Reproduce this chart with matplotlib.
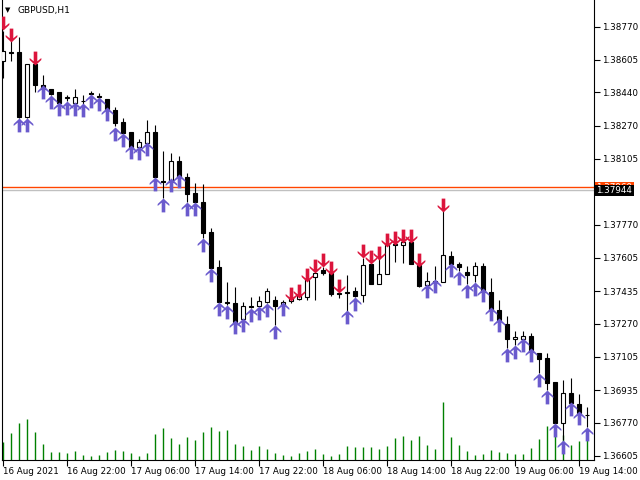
import numpy as np
import matplotlib
matplotlib.use("Agg")
import matplotlib.pyplot as plt
from matplotlib.path import Path

# GBPUSD H1, bars from 16 Aug 2021 14:00
opens = [1.38598, 1.38643, 1.38643, 1.38315, 1.38583, 1.38477, 1.38457, 1.38441, 1.38411, 1.38386,
         1.38396, 1.38436, 1.38421, 1.38406, 1.38351, 1.38290, 1.38239, 1.38164, 1.38184, 1.38239,
         1.37992, 1.37987, 1.38093, 1.38012, 1.37931, 1.37886, 1.37734, 1.37558, 1.37381, 1.37376,
         1.37295, 1.37361, 1.37361, 1.37381, 1.37391, 1.37366, 1.37386, 1.37396, 1.37406, 1.37507,
         1.37543, 1.37527, 1.37426, 1.37431, 1.37436, 1.37416, 1.37573, 1.37472, 1.37522, 1.37674,
         1.37669, 1.37684, 1.37568, 1.37467, 1.37487, 1.37482, 1.37613, 1.37573, 1.37533, 1.37517,
         1.37563, 1.37431, 1.37340, 1.37270, 1.37194, 1.37194, 1.37209, 1.37123, 1.37098, 1.36977,
         1.36770, 1.36921, 1.36866, 1.36810]
highs = [1.38749, 1.38704, 1.38719, 1.38583, 1.38583, 1.38527, 1.38457, 1.38441, 1.38426, 1.38457,
         1.38426, 1.38446, 1.38436, 1.38406, 1.38366, 1.38310, 1.38239, 1.38204, 1.38300, 1.38275,
         1.38143, 1.38133, 1.38118, 1.38032, 1.37982, 1.37977, 1.37755, 1.37593, 1.37482, 1.37457,
         1.37381, 1.37406, 1.37411, 1.37452, 1.37411, 1.37391, 1.37406, 1.37416, 1.37497, 1.37527,
         1.37558, 1.37527, 1.37426, 1.37517, 1.37457, 1.37603, 1.37573, 1.37603, 1.37669, 1.37674,
         1.37684, 1.37684, 1.37568, 1.37533, 1.37563, 1.37846, 1.37638, 1.37583, 1.37563, 1.37583,
         1.37578, 1.37502, 1.37391, 1.37310, 1.37234, 1.37234, 1.37224, 1.37123, 1.37123, 1.36977,
         1.36987, 1.36997, 1.36916, 1.36851]
lows = [1.38512, 1.38598, 1.38310, 1.38310, 1.38441, 1.38457, 1.38426, 1.38386, 1.38396, 1.38386,
        1.38381, 1.38426, 1.38411, 1.38356, 1.38270, 1.38234, 1.38164, 1.38164, 1.38184, 1.38012,
        1.37906, 1.37987, 1.38012, 1.37886, 1.37886, 1.37704, 1.37553, 1.37381, 1.37366, 1.37280,
        1.37295, 1.37351, 1.37361, 1.37376, 1.37265, 1.37366, 1.37376, 1.37391, 1.37391, 1.37391,
        1.37517, 1.37411, 1.37401, 1.37335, 1.37406, 1.37381, 1.37472, 1.37472, 1.37522, 1.37583,
        1.37578, 1.37573, 1.37457, 1.37467, 1.37477, 1.37482, 1.37573, 1.37538, 1.37472, 1.37482,
        1.37431, 1.37340, 1.37290, 1.37149, 1.37164, 1.37194, 1.37128, 1.37022, 1.36937, 1.36770,
        1.36684, 1.36871, 1.36820, 1.36750]
closes = [1.38648, 1.38638, 1.38315, 1.38583, 1.38477, 1.38457, 1.38431, 1.38386, 1.38416, 1.38416,
          1.38396, 1.38431, 1.38416, 1.38356, 1.38285, 1.38234, 1.38164, 1.38189, 1.38239, 1.38012,
          1.37987, 1.38093, 1.38012, 1.37926, 1.37886, 1.37729, 1.37553, 1.37381, 1.37376, 1.37280,
          1.37361, 1.37356, 1.37386, 1.37436, 1.37361, 1.37381, 1.37401, 1.37416, 1.37497, 1.37527,
          1.37527, 1.37421, 1.37421, 1.37426, 1.37411, 1.37568, 1.37472, 1.37522, 1.37669, 1.37669,
          1.37684, 1.37573, 1.37462, 1.37487, 1.37482, 1.37618, 1.37573, 1.37558, 1.37517, 1.37563,
          1.37431, 1.37340, 1.37290, 1.37194, 1.37204, 1.37209, 1.37128, 1.37093, 1.36972, 1.36770,
          1.36921, 1.36871, 1.36820, 1.36810]
volumes = [540, 810, 1110, 1230, 840, 480, 240, 240, 210, 270,
           150, 120, 150, 240, 300, 270, 210, 120, 210, 780,
           960, 660, 480, 690, 600, 840, 990, 870, 900, 480,
           420, 300, 420, 330, 210, 150, 120, 210, 270, 330,
           180, 120, 180, 420, 390, 390, 390, 330, 420, 660,
           720, 600, 720, 450, 330, 1740, 690, 450, 270, 150,
           180, 300, 240, 210, 180, 180, 360, 630, 1020, 750,
           750, 450, 570, 600]

# indicator arrows
up_idx = [2, 3] + list(range(5, 36)) + [43, 44, 53, 54] + list(range(56, 74))
up_price = [1.38310, 1.38310, 1.38477, 1.38426, 1.38391, 1.38396, 1.38391, 1.38386, 1.38431, 1.38416,
            1.38366, 1.38265, 1.38234, 1.38174, 1.38169, 1.38189, 1.38012, 1.37906, 1.38007, 1.38027,
            1.37886, 1.37886, 1.37704, 1.37553, 1.37381, 1.37366, 1.37290, 1.37300, 1.37351, 1.37361,
            1.37376, 1.37265, 1.37381,
            1.37340, 1.37406, 1.37472, 1.37497,
            1.37578, 1.37538, 1.37472, 1.37482, 1.37452, 1.37356, 1.37300, 1.37149, 1.37164, 1.37199,
            1.37149, 1.37022, 1.36937, 1.36770, 1.36684, 1.36876, 1.36830, 1.36750]
dn_idx = [0, 1, 4, 36, 37, 38, 39, 40, 41, 42, 45, 46, 47, 48, 49, 50, 51, 52, 55]
dn_price = [1.38755, 1.38694, 1.38578, 1.37386, 1.37401, 1.37482, 1.37527, 1.37558, 1.37517, 1.37426,
            1.37603, 1.37573, 1.37593, 1.37659, 1.37669, 1.37679, 1.37679, 1.37558, 1.37835]

time_labels = ["16 Aug 2021", "16 Aug 22:00", "17 Aug 06:00", "17 Aug 14:00", "17 Aug 22:00",
               "18 Aug 06:00", "18 Aug 14:00", "18 Aug 22:00", "19 Aug 06:00", "19 Aug 14:00"]
price_ticks = [1.38770, 1.38605, 1.38440, 1.38270, 1.38105, 1.37770, 1.37605,
               1.37435, 1.37270, 1.37105, 1.36935, 1.36770, 1.36605]
ask_line = 1.37960
bid_line = 1.37944

x = np.arange(len(opens))
o = np.array(opens)
c = np.array(closes)

fig = plt.figure(figsize=(6.4, 4.8), dpi=100)
ax = fig.add_axes([2 / 640, 20 / 480, 592 / 640, 460 / 480])
axv = ax.twinx()
ax.set_zorder(axv.get_zorder() + 1)
ax.patch.set_visible(False)

# volumes
axv.vlines(x, 0, volumes, color="#008000", lw=1.0)
axv.set_ylim(0, 13800)
axv.set_yticks([])
for s in axv.spines.values():
    s.set_visible(False)

# candles
ax.vlines(x, lows, highs, color="black", lw=0.8, zorder=2)
bull = c >= o
ax.bar(x, np.abs(c - o), bottom=np.minimum(o, c), width=0.5,
       color=np.where(bull, "white", "black"), edgecolor="black", lw=0.8, zorder=3)

# arrows, tip at the origin
up_path = Path([(0, 0), (0.42, -0.40), (0.42, -0.54), (0.13, -0.30), (0.13, -1.0),
                (-0.13, -1.0), (-0.13, -0.30), (-0.42, -0.54), (-0.42, -0.40), (0, 0)],
               closed=True)
dn_path = Path(up_path.vertices * [1, -1], closed=True)
ax.plot(up_idx, up_price, ls="none", marker=up_path, ms=20, color="#6A5ACD", mew=0, zorder=4)
ax.plot(dn_idx, dn_price, ls="none", marker=dn_path, ms=20, color="#DC143C", mew=0, zorder=4)

ax.axhline(ask_line, color="#FF4500", lw=1.0, zorder=1)
ax.axhline(bid_line, color="#C0C0C0", lw=1.0, zorder=1)

ax.set_xlim(-0.125, 73.875)
ax.set_ylim(1.36583, 1.38906)

ax.yaxis.tick_right()
ax.set_yticks(price_ticks)
ax.set_yticklabels(["%.5f" % p for p in price_ticks])
ax.set_xticks(range(0, 74, 8))
ax.set_xticklabels(time_labels, ha="left")
ax.tick_params(axis="both", length=4, width=0.8, labelsize=6.3, pad=2, colors="black")
ax.tick_params(axis="x", pad=1)
ax.spines["top"].set_visible(False)
for s in ["left", "right", "bottom"]:
    ax.spines[s].set_linewidth(0.8)

# price boxes on the scale
ax.text(1.004, ask_line, "1.37960", transform=ax.get_yaxis_transform(), fontsize=6.3,
        color="white", va="center", ha="left",
        bbox=dict(boxstyle="square,pad=0.15", fc="#FF4500", ec="none"), zorder=10)
ax.text(1.004, bid_line, "1.37944", transform=ax.get_yaxis_transform(), fontsize=6.3,
        color="white", va="center", ha="left",
        bbox=dict(boxstyle="square,pad=0.15", fc="black", ec="none"), zorder=11)

fig.text(8 / 640, 1 - 10 / 480, "\u25bc", fontsize=5, ha="center", va="center")
fig.text(17 / 640, 1 - 10 / 480, "GBPUSD,H1", fontsize=6.5, ha="left", va="center")

fig.savefig("out.png", dpi=100)
